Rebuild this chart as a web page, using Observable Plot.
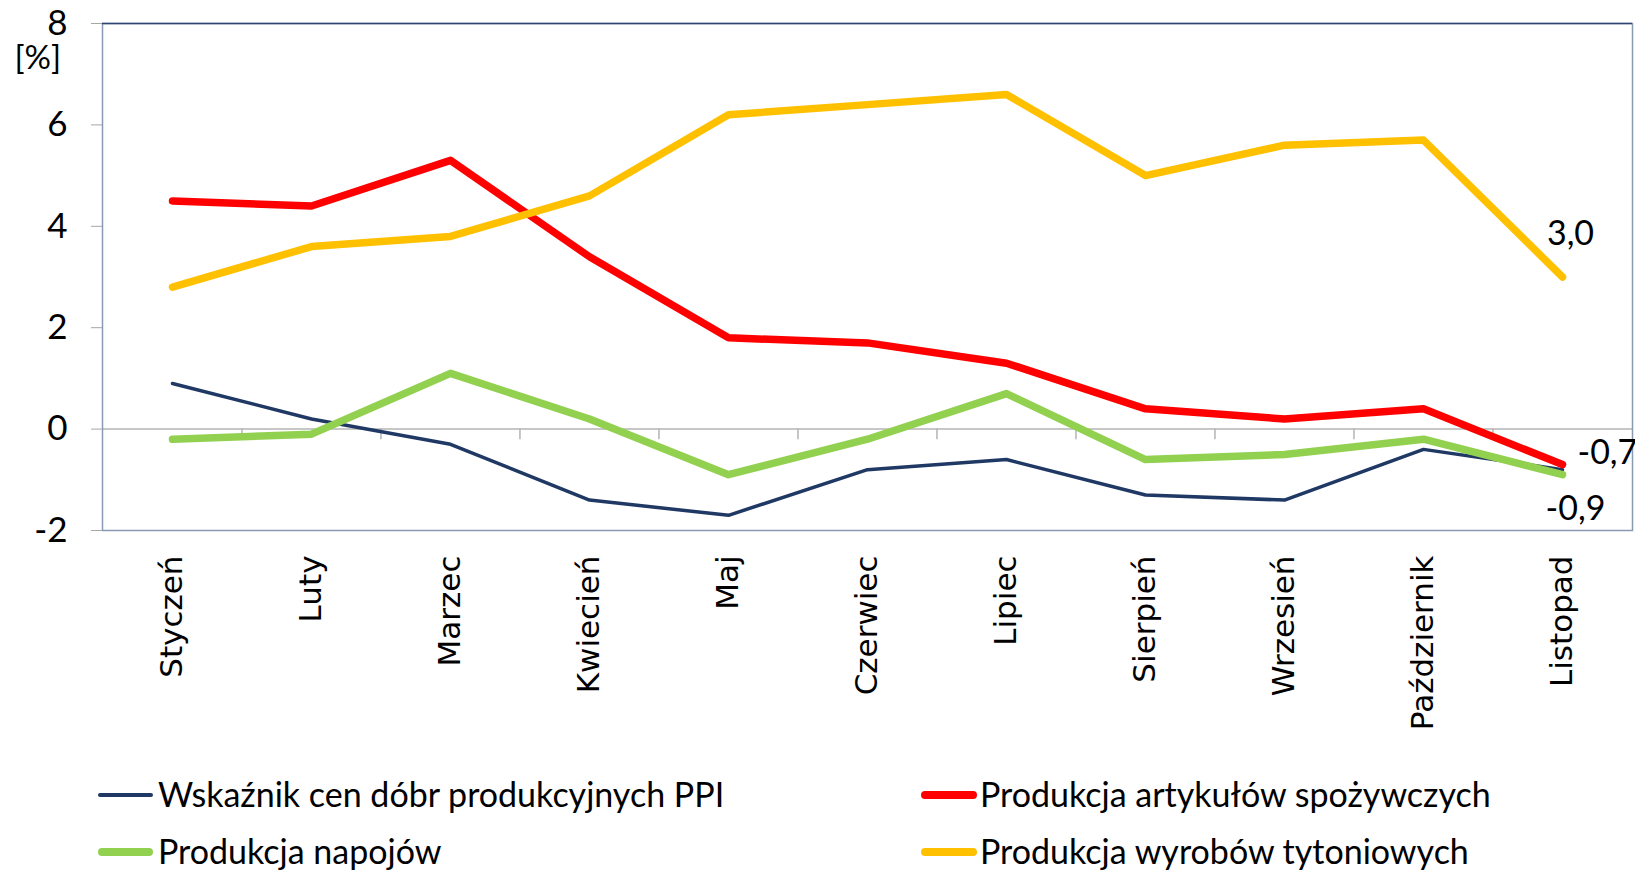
<!DOCTYPE html>
<html>
<head>
<meta charset="utf-8">
<script src="https://cdn.jsdelivr.net/npm/d3@7"></script>
<script src="https://cdn.jsdelivr.net/npm/@observablehq/plot@0.6"></script>
<style>
  html, body { margin: 0; padding: 0; background: #fff; overflow: hidden; }
  #wrap { position: relative; width: 1635px; height: 870px; }
  #legend { position: absolute; left: 0; top: 740px; width: 1635px; height: 130px; font-family: Lato, "Open Sans", sans-serif; font-size: 34px; color: #000; }
  .item { position: absolute; display: flex; align-items: center; height: 40px; white-space: nowrap; }
  .sw { display: inline-block; border-radius: 5px; margin-right: 5px; }
</style>
</head>
<body>
<div id="wrap">
  <div id="chart"></div>
  <div id="legend"></div>
</div>
<script>
const months = ["Styczeń","Luty","Marzec","Kwiecień","Maj","Czerwiec","Lipiec","Sierpień","Wrzesień","Październik","Listopad"];
const seriesNames = ["Wskaźnik cen dóbr produkcyjnych PPI","Produkcja artykułów spożywczych","Produkcja napojów","Produkcja wyrobów tytoniowych"];
const ppi       = [0.9, 0.2, -0.3, -1.4, -1.7, -0.8, -0.6, -1.3, -1.4, -0.4, -0.8];
const food      = [4.5, 4.4, 5.3, 3.4, 1.8, 1.7, 1.3, 0.4, 0.2, 0.4, -0.7];
const beverages = [-0.2, -0.1, 1.1, 0.2, -0.9, -0.2, 0.7, -0.6, -0.5, -0.2, -0.9];
const tobacco   = [2.8, 3.6, 3.8, 4.6, 6.2, 6.4, 6.6, 5.0, 5.6, 5.7, 3.0];
const yTicks = [-2, 0, 2, 4, 6, 8];
const colors = ["#1F3864", "#FF0000", "#92D050", "#FFC000"];
const widths = [3.5, 7.5, 7.5, 7.5];

const values = [ppi, food, beverages, tobacco];
const rows = seriesNames.flatMap((s, k) => months.map((m, i) => ({series: s, k, month: m, value: values[k][i]})));
const fmt = v => v.toFixed(1).replace(".", ",");

const W = 1635, H = 740, mL = 102, mR = 3, mT = 23, mB = 210;
const step = (W - mL - mR) / months.length;

const last = months[months.length - 1];
const endLabels = [
  {month: last, value: tobacco[tobacco.length - 1], dx: 8, dy: -43, anchor: "middle"},
  {month: last, value: food[food.length - 1], dx: 15, dy: -11, anchor: "start"},
  {month: last, value: beverages[beverages.length - 1], dx: 13, dy: 34, anchor: "middle"}
];

const marks = [
  Plot.ruleY([0], {stroke: "#b4b4b4", strokeWidth: 1.5}),
  Plot.ruleX(months.slice(1), {x: d => d, y1: 0, y2: -0.21, dx: -step / 2, stroke: "#b4b4b4", strokeWidth: 1.5}),
  Plot.frame({stroke: "#8a9ab3", strokeWidth: 1.5}),
  Plot.ruleY([8], {stroke: "#2f4470", strokeWidth: 1.5}),
  Plot.axisY({ticks: yTicks, tickSize: 11, tickPadding: 24, tickFormat: d => String(d), stroke: "#a6a6a6", fill: "#000", fontSize: 35, fontFamily: "Lato", label: null}),
  Plot.axisX({tickRotate: -90, tickSize: 0, tickPadding: 25, fontSize: 31, fontFamily: "DejaVu Sans", fill: "#000", label: null}),
  Plot.text(["[%]"], {frameAnchor: "top-left", text: d => d, dx: -88, dy: 22, fontSize: 33, fontFamily: "Lato", fill: "#000"})
];
values.forEach((vals, k) => {
  marks.push(Plot.line(rows.filter(r => r.k === k), {x: "month", y: "value", stroke: colors[k], strokeWidth: widths[k], strokeLinecap: "round", strokeLinejoin: "round"}));
});
endLabels.forEach(l => {
  marks.push(Plot.text([l], {x: "month", y: "value", text: d => fmt(d.value), dx: l.dx, dy: l.dy, textAnchor: l.anchor, fontSize: 34, fontFamily: "Lato", fill: "#000"}));
});

const chart = Plot.plot({
  width: W, height: H,
  marginLeft: mL, marginRight: mR, marginTop: mT, marginBottom: mB,
  style: {fontFamily: "Lato", background: "#fff", overflow: "visible"},
  x: {type: "point", domain: months, padding: 0.5, axis: null},
  y: {domain: [-2, 8], axis: null},
  marks
});
document.getElementById("chart").appendChild(chart);

// legend
const legendPos = [
  {sx: 98, sw: 55, tx: 158, cy: 53},
  {sx: 921, sw: 56, tx: 980, cy: 53},
  {sx: 98, sw: 55, tx: 158, cy: 110},
  {sx: 921, sw: 56, tx: 980, cy: 110}
];
const leg = document.getElementById("legend");
[0, 1, 2, 3].forEach((k, j) => {
  const p = legendPos[j];
  const sw = document.createElement("span");
  sw.className = "sw";
  sw.style.cssText = `position:absolute;left:${p.sx}px;top:${p.cy + 2 - widths[k] / 2 - 0.5}px;width:${p.sw}px;height:${widths[k] + 1}px;background:${colors[k]};`;
  leg.appendChild(sw);
  const t = document.createElement("div");
  t.className = "item";
  t.style.left = p.tx + "px";
  t.style.top = (p.cy - 20) + "px";
  t.textContent = seriesNames[k];
  leg.appendChild(t);
});
</script>
</body>
</html>
